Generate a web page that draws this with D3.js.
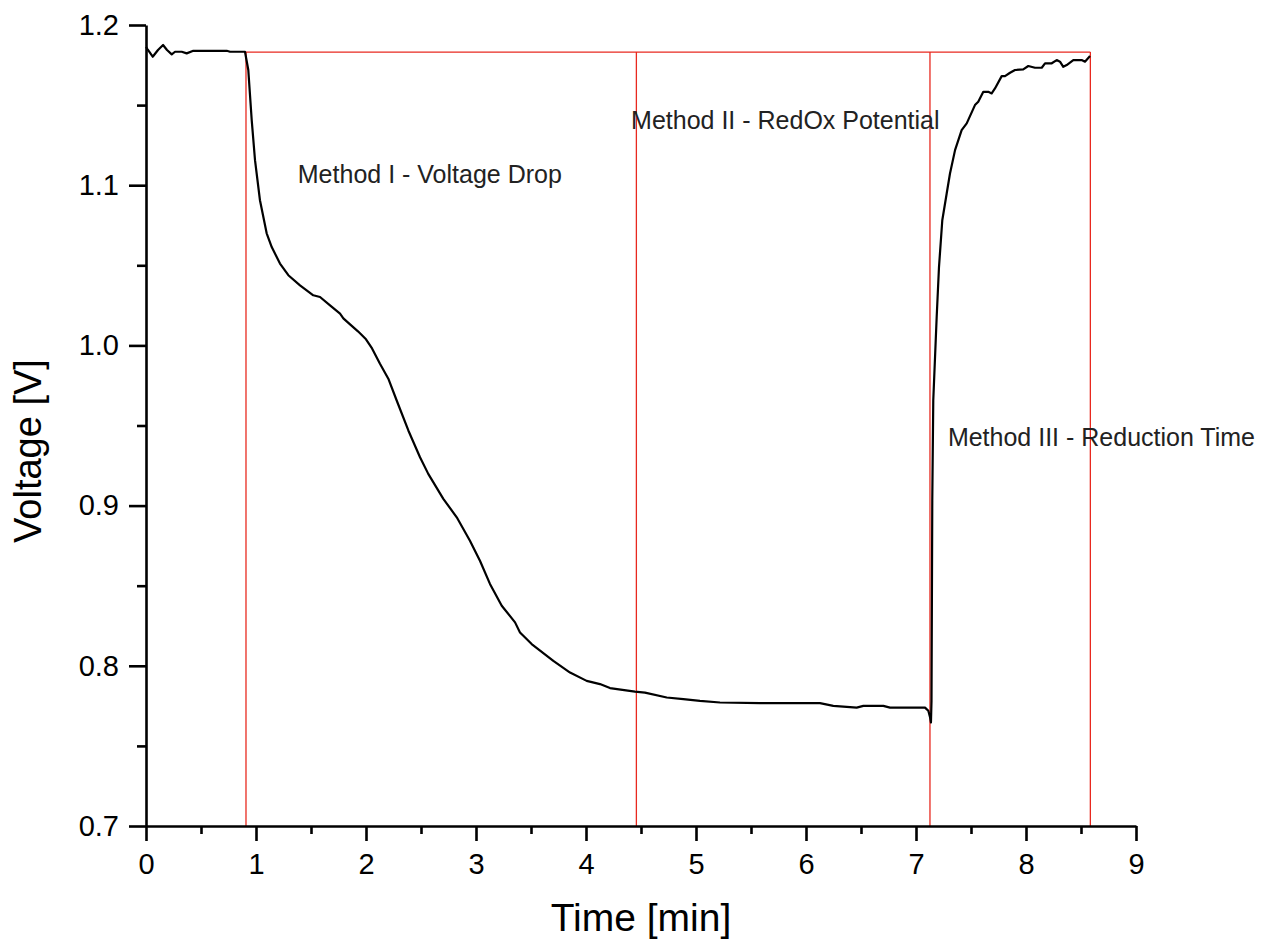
<!DOCTYPE html>
<html lang="en">
<head>
    <meta charset="UTF-8">
    <title>Voltage vs Time</title>
    <script src="https://d3js.org/d3.v7.min.js"></script>
    <style>
        body { margin: 0; background: #fff; }
        svg text { font-family: Arial, "Liberation Sans", sans-serif; }
    </style>
</head>
<body>
    <svg id="chart" width="1268" height="947"></svg>
    <script>
        // Measured curve (time in min, voltage in V)
        const timeMin = [
            0.000, 0.018, 0.061, 0.109, 0.155, 0.191, 0.234, 0.264, 0.325, 0.370, 0.430, 0.734, 0.764, 0.900,
            0.930, 0.961, 0.991, 1.036, 1.097, 1.143, 1.218, 1.294, 1.400, 1.521, 1.582, 1.673, 1.764, 1.794,
            1.855, 1.927, 2.000, 2.055, 2.127, 2.203, 2.279, 2.385, 2.491, 2.566, 2.703, 2.825, 2.945, 3.036,
            3.127, 3.234, 3.355, 3.400, 3.506, 3.703, 3.855, 4.006, 4.127, 4.218, 4.445, 4.536, 4.734, 4.885,
            5.036, 5.218, 5.582, 6.127, 6.248, 6.461, 6.521, 6.703, 6.764, 7.082, 7.112, 7.127, 7.136, 7.141,
            7.148, 7.157, 7.188, 7.209, 7.239, 7.279, 7.309, 7.355, 7.415, 7.461, 7.536, 7.566, 7.612, 7.657,
            7.688, 7.718, 7.779, 7.809, 7.855, 7.900, 7.975, 8.021, 8.082, 8.143, 8.173, 8.234, 8.279, 8.309,
            8.339, 8.370, 8.430, 8.506, 8.536, 8.582
        ];
        const voltage = [
            1.1863, 1.1844, 1.1802, 1.1844, 1.1875, 1.1844, 1.1817, 1.1833, 1.1833, 1.1823, 1.1839, 1.1839, 1.1833, 1.1833,
            1.1719, 1.1406, 1.1156, 1.0906, 1.0700, 1.0614, 1.0511, 1.0438, 1.0375, 1.0313, 1.0302, 1.0250, 1.0198, 1.0169,
            1.0131, 1.0088, 1.0038, 0.9981, 0.9886, 0.9792, 0.9656, 0.9469, 0.9302, 0.9198, 0.9042, 0.8927, 0.8781, 0.8656,
            0.8511, 0.8375, 0.8271, 0.8208, 0.8136, 0.8031, 0.7958, 0.7906, 0.7886, 0.7861, 0.7839, 0.7833, 0.7802, 0.7792,
            0.7781, 0.7771, 0.7767, 0.7767, 0.7750, 0.7739, 0.7750, 0.7750, 0.7739, 0.7739, 0.7719, 0.7681, 0.7646, 0.7781,
            0.9031, 0.9656, 1.0177, 1.0489, 1.0781, 1.0948, 1.1073, 1.1219, 1.1344, 1.1386, 1.1500, 1.1521, 1.1583, 1.1583,
            1.1573, 1.1604, 1.1681, 1.1681, 1.1702, 1.1719, 1.1723, 1.1744, 1.1733, 1.1733, 1.1761, 1.1761, 1.1781, 1.1771,
            1.1739, 1.1750, 1.1781, 1.1781, 1.1771, 1.1806
        ];

        // Red method markers
        const markerTimes = [0.909, 4.458, 7.127, 8.585];
        const markerTop = 1.1831;

        const annotations = [
            { text: "Method I - Voltage Drop", t: 1.38, v: 1.1013 },
            { text: "Method II - RedOx Potential", t: 4.41, v: 1.1350 },
            { text: "Method III - Reduction Time", t: 7.29, v: 0.9375 }
        ];

        const xMajor = [0, 1, 2, 3, 4, 5, 6, 7, 8, 9];
        const xMinor = [0.5, 1.5, 2.5, 3.5, 4.5, 5.5, 6.5, 7.5, 8.5];
        const yMajor = [0.7, 0.8, 0.9, 1.0, 1.1, 1.2];
        const yMinor = [0.75, 0.85, 0.95, 1.05, 1.15];

        const svg = d3.select("#chart");

        const x = d3.scaleLinear().domain([0, 9]).range([146, 1136]);
        const y = d3.scaleLinear().domain([0.7, 1.2]).range([826, 25]);

        // Red lines
        const red = svg.append("g")
            .attr("stroke", "#e8291f")
            .attr("stroke-width", 1.3)
            .attr("fill", "none");

        red.selectAll("line.v")
            .data(markerTimes)
            .enter()
            .append("line")
            .attr("class", "v")
            .attr("x1", d => x(d))
            .attr("x2", d => x(d))
            .attr("y1", y(markerTop))
            .attr("y2", y(0.7));

        red.append("line")
            .attr("x1", x(markerTimes[0]))
            .attr("x2", x(markerTimes[markerTimes.length - 1]))
            .attr("y1", y(markerTop))
            .attr("y2", y(markerTop));

        // Curve
        const pts = timeMin.map((t, i) => [t, voltage[i]]);
        svg.append("path")
            .datum(pts)
            .attr("fill", "none")
            .attr("stroke", "#000")
            .attr("stroke-width", 2.2)
            .attr("stroke-linejoin", "round")
            .attr("d", d3.line().x(d => x(d[0])).y(d => y(d[1])));

        // Axes
        function styleAxis(g) {
            g.selectAll("path, line").attr("stroke", "#000").attr("stroke-width", 2.6);
            g.selectAll("text").attr("fill", "#000").style("font-size", "29px").style("font-family", "Arial, 'Liberation Sans', sans-serif");
        }

        svg.append("g")
            .attr("transform", "translate(0,826)")
            .call(d3.axisBottom(x).tickValues(xMinor).tickSize(8).tickSizeOuter(0).tickFormat(""))
            .call(g => g.select(".domain").remove())
            .call(styleAxis);

        svg.append("g")
            .attr("transform", "translate(146,0)")
            .call(d3.axisLeft(y).tickValues(yMinor).tickSize(9).tickSizeOuter(0).tickFormat(""))
            .call(g => g.select(".domain").remove())
            .call(styleAxis);

        svg.append("g")
            .attr("transform", "translate(0,826)")
            .call(d3.axisBottom(x).tickValues(xMajor).tickSize(15).tickSizeOuter(0).tickPadding(12).tickFormat(d3.format("d")))
            .call(styleAxis);

        svg.append("g")
            .attr("transform", "translate(146,0)")
            .call(d3.axisLeft(y).tickValues(yMajor).tickSize(17).tickSizeOuter(0).tickPadding(10).tickFormat(d3.format(".1f")))
            .call(styleAxis);

        // Annotations
        svg.selectAll("text.note")
            .data(annotations)
            .enter()
            .append("text")
            .attr("class", "note")
            .attr("x", d => x(d.t))
            .attr("y", d => y(d.v))
            .attr("fill", "#222")
            .style("font-size", "25px")
            .text(d => d.text);

        // Axis titles
        svg.append("text")
            .attr("x", 641)
            .attr("y", 931)
            .attr("text-anchor", "middle")
            .style("font-size", "39px")
            .text("Time [min]");

        svg.append("text")
            .attr("transform", "translate(41,451) rotate(-90)")
            .attr("text-anchor", "middle")
            .style("font-size", "38px")
            .text("Voltage [V]");
    </script>
</body>
</html>
